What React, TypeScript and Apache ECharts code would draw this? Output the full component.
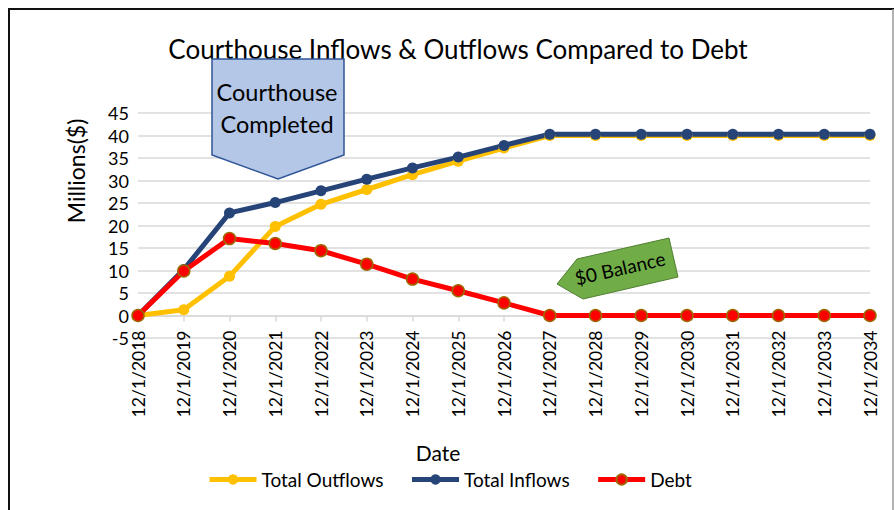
import React, { useEffect, useRef } from "react";
import * as echarts from "echarts";

const categories = [
  "12/1/2018", "12/1/2019", "12/1/2020", "12/1/2021", "12/1/2022", "12/1/2023",
  "12/1/2024", "12/1/2025", "12/1/2026", "12/1/2027", "12/1/2028", "12/1/2029",
  "12/1/2030", "12/1/2031", "12/1/2032", "12/1/2033", "12/1/2034",
];
const totalOutflows = [0, 1.3, 8.7, 19.8, 24.7, 28.0, 31.3, 34.3, 37.2, 40.0, 40.0, 40.0, 40.0, 40.0, 40.0, 40.0, 40.0];
const totalInflows = [0, 10.2, 22.8, 25.1, 27.7, 30.3, 32.8, 35.2, 37.8, 40.3, 40.3, 40.3, 40.3, 40.3, 40.3, 40.3, 40.3];
const debt = [0, 9.9, 17.1, 16.0, 14.4, 11.4, 8.1, 5.5, 2.8, 0, 0, 0, 0, 0, 0, 0, 0];

const FONT = "Lato";

export default function App() {
  const ref = useRef<HTMLDivElement>(null);
  useEffect(() => {
    if (!ref.current) return;
    const chart = echarts.init(ref.current, null, { renderer: "svg" });
    chart.setOption({
      animation: false,
      backgroundColor: "#fff",
      textStyle: { fontFamily: FONT },
      title: {
        text: "Courthouse Inflows & Outflows Compared to Debt",
        left: 453,
        top: 31,
        textAlign: "center",
        textStyle: { fontFamily: FONT, fontSize: 26, fontWeight: "normal", color: "#000" },
      },
      legend: {
        left: 202,
        top: 465,
        itemWidth: 47,
        itemHeight: 13,
        itemGap: 26,
        lineStyle: { width: 5 },
        textStyle: { fontFamily: FONT, fontSize: 19, color: "#000" },
        data: ["Total Outflows", "Total Inflows", "Debt"],
      },
      grid: { left: 138, right: 24, top: 113, bottom: 172, containLabel: false },
      xAxis: {
        type: "category",
        data: categories,
        boundaryGap: false,
        position: "bottom",
        offset: -22.5,
        axisLine: { onZero: false, lineStyle: { color: "#d9d9d9", width: 1.5 } },
        axisTick: { show: true, alignWithLabel: true, length: 6, lineStyle: { color: "#d9d9d9", width: 1.5 } },
        axisLabel: { rotate: 90, margin: 15, fontSize: 17.5, color: "#000", fontFamily: FONT, interval: 0 },
      },
      yAxis: {
        type: "value",
        min: -5,
        max: 45,
        interval: 5,
        axisLine: { show: false },
        axisTick: { show: false },
        axisLabel: { fontSize: 18, color: "#000", margin: 9, fontFamily: FONT },
        splitLine: { lineStyle: { color: "#d9d9d9", width: 1.5 } },
      },
      series: [
        {
          name: "Total Outflows",
          type: "line",
          data: totalOutflows,
          symbol: "circle",
          symbolSize: 11,
          lineStyle: { color: "#ffc000", width: 5 },
          itemStyle: { color: "#ffc000" },
        },
        {
          name: "Total Inflows",
          type: "line",
          data: totalInflows,
          symbol: "circle",
          symbolSize: 11,
          lineStyle: { color: "#264478", width: 5 },
          itemStyle: { color: "#264478" },
        },
        {
          name: "Debt",
          type: "line",
          data: debt,
          symbol: "circle",
          symbolSize: 12,
          lineStyle: { color: "#ff0000", width: 5 },
          itemStyle: { color: "#ff0000", borderColor: "#9c6a00", borderWidth: 1.5 },
        },
      ],
      graphic: [
        { type: "line", shape: { x1: 8, y1: 9, x2: 894, y2: 9 }, style: { stroke: "#111", lineWidth: 2 }, silent: true },
        { type: "line", shape: { x1: 9, y1: 9, x2: 9, y2: 510 }, style: { stroke: "#111", lineWidth: 2 }, silent: true },
        { type: "line", shape: { x1: 893, y1: 9, x2: 893, y2: 510 }, style: { stroke: "#999", lineWidth: 1.5 }, silent: true },
        {
          type: "text",
          x: 76,
          y: 171,
          rotation: Math.PI / 2,
          style: { text: "Millions($)", fontFamily: FONT, fontSize: 23, fill: "#000", align: "center", verticalAlign: "middle" },
        },
        {
          type: "text",
          x: 438,
          y: 452,
          style: { text: "Date", fontFamily: FONT, fontSize: 21, fill: "#000", align: "center", verticalAlign: "middle" },
        },
        {
          type: "polygon",
          shape: { points: [[212, 59], [344, 59], [344, 155], [278, 179], [212, 155]] },
          style: { fill: "#b4c7e7", stroke: "#2f5597", lineWidth: 1.5 },
          z: 100,
        },
        {
          type: "text",
          x: 277,
          y: 108,
          z: 101,
          style: {
            text: "Courthouse\nCompleted",
            fontFamily: FONT,
            fontSize: 23.5,
            lineHeight: 32,
            fill: "#000",
            align: "center",
            verticalAlign: "middle",
          },
        },
        {
          type: "polygon",
          shape: { points: [[557, 284], [577, 259], [669, 238], [678, 277], [583, 299]] },
          style: { fill: "#70ad47", stroke: "#507e32", lineWidth: 1 },
          z: 100,
        },
        {
          type: "text",
          x: 620,
          y: 268,
          rotation: 0.225,
          z: 101,
          style: { text: "$0 Balance", fontFamily: FONT, fontSize: 19, fill: "#000", align: "center", verticalAlign: "middle" },
        },
      ],
    });
    return () => chart.dispose();
  }, []);
  return <div ref={ref} style={{ position: "absolute", left: 0, top: 0, width: 894, height: 510 }} />;
}
